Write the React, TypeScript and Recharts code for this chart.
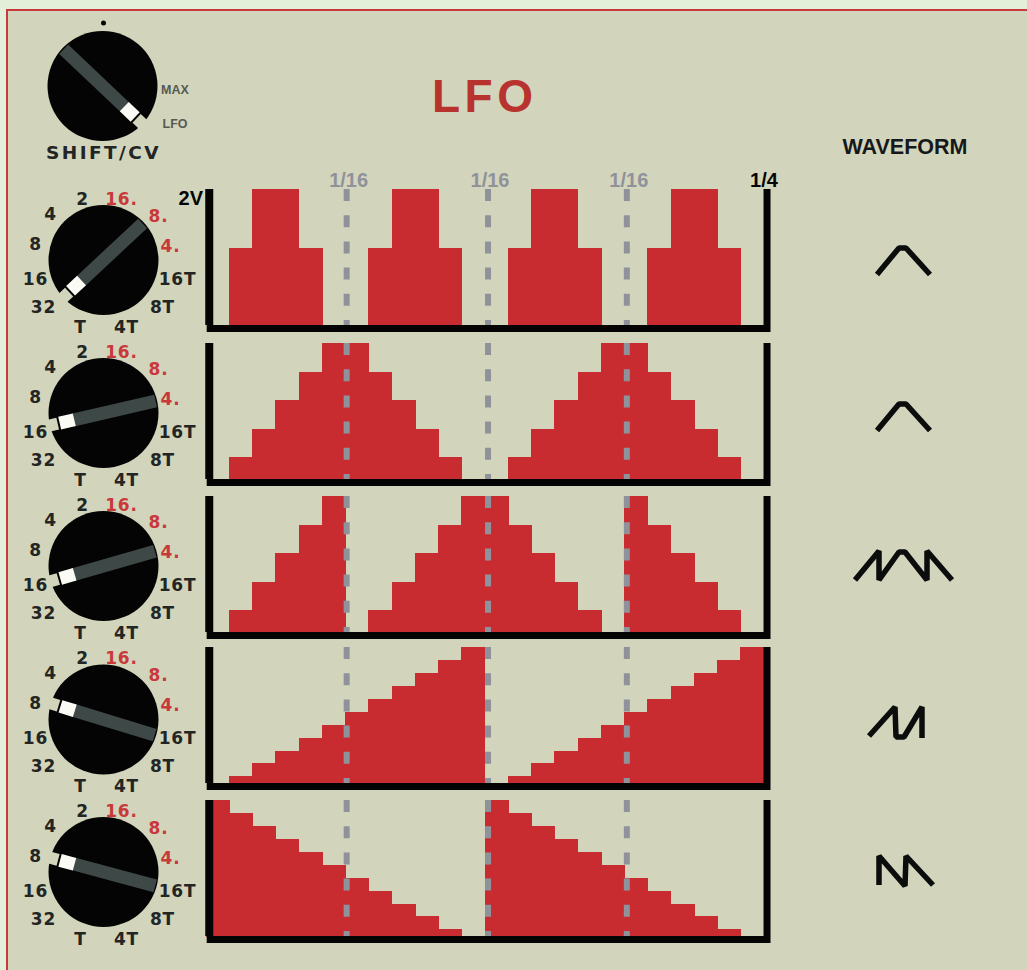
import React from "react";
import { BarChart, Bar, XAxis, YAxis, ReferenceLine } from "recharts";

const slots = ["1","2","3","4","5","6","7","8","9","10","11","12","13","14","15","16","17","18","19","20","21","22","23","24"];
const waveSteps = [0,1.13,2,2,1.13,0,0,1.13,2,2,1.13,0,0,1.13,2,2,1.13,0,0,1.13,2,2,1.13,0];
const waveTriangle = [0,0.32,0.73,1.15,1.56,2,2,1.56,1.15,0.73,0.32,0,0,0.32,0.73,1.15,1.56,2,2,1.56,1.15,0.73,0.32,0];
const waveMixed = [0,0.32,0.73,1.15,1.56,2,0,0.32,0.73,1.15,1.56,2,2,1.56,1.15,0.73,0.32,0,2,1.56,1.15,0.73,0.32,0];
const waveRise = [0,0.09,0.28,0.47,0.66,0.85,1.04,1.23,1.42,1.61,1.8,2,0,0.09,0.28,0.47,0.66,0.85,1.04,1.23,1.42,1.61,1.8,2];
const waveFall = [2,1.8,1.61,1.42,1.23,1.04,0.85,0.66,0.47,0.28,0.09,0,2,1.8,1.61,1.42,1.23,1.04,0.85,0.66,0.47,0.28,0.09,0];
const gridMarks = [6.05, 12.13, 18.1];
const gridLabel = "1/16";
const endLabel = "1/4";
const rangeLabel = "2V";

const knobLabels: [string, number, number, boolean][] = [
  ["2",-21,-62,false],["16.",18,-62,true],["8.",55,-45,true],["4.",67,-15,true],
  ["16T",74,18,false],["8T",59,46,false],["4T",23,66,false],["T",-23,66,false],
  ["32",-60,46,false],["16",-68,18,false],["8",-68,-17,false],["4",-53,-47,false],
];
const knobs: [number, number][] = [[260,137],[413,167],[566,164],[719.5,197],[872,195]];
const panels = [
  { top: 189, series: waveSteps },
  { top: 343, series: waveTriangle },
  { top: 495.5, series: waveMixed },
  { top: 647, series: waveRise },
  { top: 800, series: waveFall },
];
const icons = [
  "877,274.5 899,248 906,248 930,274.5",
  "877,430.5 899,404 906,404 930,430.5",
  "855,580 879,551 879,580 899,552 905,552 927,580 927,551 952,580",
  "869,736 895,707 896,737 904,737 922,707 922,738",
  "879,885 879,856 905,886 906,856 933,885",
];

const BG = "#d2d5bb";
const RED = "#c92c30";
const BLACK = "#040404";
const GREY = "#8f929b";
const DARK = "#232524";
const wide = "'DejaVu Sans', sans-serif";
const arial = "'Liberation Sans', Arial, sans-serif";

function Knob({ cx, cy, angle }: { cx: number; cy: number; angle: number }) {
  return (
    <g transform={`translate(${cx} ${cy})`}>
      <circle r={55} fill={BLACK} />
      <g transform={`rotate(${angle})`}>
        <rect x={47} y={-6} width={11} height={12} fill={BG} />
        <rect x={-53.5} y={-6.5} width={86} height={13} fill="#3e4847" />
        <rect x={30} y={-6.5} width={15} height={13} fill="#fbfbf6" />
      </g>
    </g>
  );
}

function Panel({ top, series, first }: { top: number; series: number[]; first: boolean }) {
  const data = slots.map((slot, i) => ({ slot, mark: i, volts: series[i] }));
  const labelStyle = { fill: GREY, fontSize: 20, fontWeight: 700, fontFamily: arial };
  return (
    <div style={{ position: "absolute", left: 170, top: top - 30 }}>
      <BarChart width={630} height={180} data={data} margin={{ top: 30, left: 36, right: 36, bottom: 14 }} barCategoryGap={0} barGap={0}>
        <XAxis xAxisId="cat" dataKey="slot" hide padding={{ left: 0, right: 0 }} />
        <XAxis xAxisId="grid" dataKey="mark" type="number" domain={[0, 24]} hide />
        <YAxis domain={[0, 2]} hide />
        <Bar xAxisId="cat" dataKey="volts" fill={RED} stroke={RED} strokeWidth={1} shapeRendering="crispEdges" isAnimationActive={false} />
        {gridMarks.map((x) => (
          <ReferenceLine
            key={x}
            xAxisId="grid"
            x={x}
            stroke={GREY}
            strokeWidth={6}
            strokeDasharray="12 14.2"
            strokeDashoffset={7}
            label={first ? { value: gridLabel, position: "top", offset: 2, dx: 2, ...labelStyle } : undefined}
          />
        ))}
        {first ? (
          <ReferenceLine
            xAxisId="cat"
            y={2}
            stroke="none"
            label={{ value: rangeLabel, position: "left", offset: 3, dy: 9, fill: BLACK, fontSize: 20, fontWeight: 700, fontFamily: arial }}
          />
        ) : null}
        <ReferenceLine xAxisId="grid" x={0.14} stroke={BLACK} strokeWidth={8} ifOverflow="visible" />
        <ReferenceLine
          xAxisId="grid"
          x={24.13}
          stroke={BLACK}
          strokeWidth={7}
          ifOverflow="visible"
          label={first ? { value: endLabel, position: "top", offset: 2, dx: -3, ...labelStyle, fill: BLACK } : undefined}
        />
        <ReferenceLine
          xAxisId="grid"
          ifOverflow="visible"
          stroke={BLACK}
          strokeWidth={7}
          segment={[{ x: 0.03, y: -0.05 }, { x: 24.28, y: -0.05 }]}
        />
      </BarChart>
    </div>
  );
}

export default function App() {
  return (
    <div style={{ position: "absolute", left: 0, top: 0, width: 1027, height: 970, background: "#e4efd9", overflow: "hidden" }}>
      <div style={{ position: "absolute", left: 6, top: 9, right: 0, bottom: 0, background: BG, borderLeft: "2px solid #c9383a", borderTop: "2px solid #c9383a" }} />
      <svg width={1027} height={970} style={{ position: "absolute", left: 0, top: 0 }}>
        <circle cx={103.5} cy={23} r={2.5} fill={BLACK} />
        <Knob cx={102.5} cy={86} angle={43.5} />
        <text x={175} y={94} textAnchor="middle" fontFamily={arial} fontSize={12.5} fontWeight={700} fill="#555a55">MAX</text>
        <text x={175} y={128} textAnchor="middle" fontFamily={arial} fontSize={12.5} fontWeight={700} fill="#555a55">LFO</text>
        <text x={103.5} y={159} textAnchor="middle" fontFamily={wide} fontSize={18.5} letterSpacing={2.4} fill={DARK} fontWeight={700}>SHIFT/CV</text>
        <text x={432} y={112} fontFamily={arial} fontSize={46} fontWeight={700} letterSpacing={4.5} fill="#b8322e">LFO</text>
        <text x={905} y={154} textAnchor="middle" fontFamily={arial} fontSize={21.5} fontWeight={700} fill="#16181a">WAVEFORM</text>
        {knobs.map(([cy, angle]) => (
          <g key={cy}>
            <Knob cx={103.5} cy={cy} angle={angle} />
            {knobLabels.map(([t, dx, dy, red]) => (
              <text key={t} x={103.5 + dx} y={cy + dy + 6.5} textAnchor="middle" fontFamily={wide} fontSize={17} letterSpacing={0.8} fontWeight={700} fill={red ? "#c9383a" : DARK}>{t}</text>
            ))}
          </g>
        ))}
        {icons.map((p) => (
          <polyline key={p} points={p} fill="none" stroke="#0a0d0c" strokeWidth={5.5} strokeLinejoin="bevel" />
        ))}
      </svg>
      {panels.map((p, i) => (
        <Panel key={p.top} top={p.top} series={p.series} first={i === 0} />
      ))}
    </div>
  );
}
